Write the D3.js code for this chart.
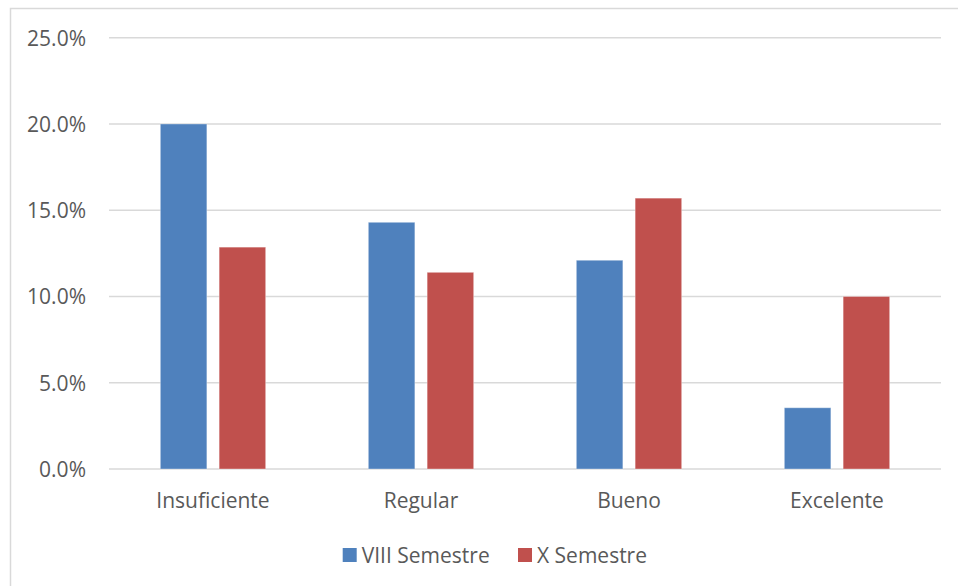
<!DOCTYPE html>
<html>
<head>
<meta charset="utf-8">
<script src="https://cdn.jsdelivr.net/npm/d3@7"></script>
<style>
  html, body { margin: 0; padding: 0; background: #fff; }
  svg { display: block; }
  text { font-family: "Open Sans", sans-serif; fill: #595959; }
</style>
</head>
<body>
<svg id="chart" width="958" height="586"></svg>
<script>
const categories = ["Insuficiente", "Regular", "Bueno", "Excelente"];
const seriesNames = ["VIII Semestre", "X Semestre"];
const viiiValues = [20.0, 14.3, 12.1, 3.55];
const xValues = [12.86, 11.4, 15.7, 10.0];
const yTicks = [0, 5, 10, 15, 20, 25];
const colors = ["#4F81BD", "#C0504D"];

const seriesValues = [viiiValues, xValues];
const svg = d3.select("#chart");

// chart border
svg.append("rect")
  .attr("x", 10.5).attr("y", 8.5)
  .attr("width", 1000).attr("height", 1000)
  .attr("fill", "none").attr("stroke", "#d9d9d9").attr("stroke-width", 1.5);

const plot = { left: 109, right: 941, top: 37.7, bottom: 469 };

const y = d3.scaleLinear().domain([0, 25]).range([plot.bottom, plot.top]);
const x0 = d3.scaleBand().domain(categories).range([plot.left, plot.right]).padding(0);
const x1 = d3.scaleBand().domain(seriesNames).range([0, x0.bandwidth()])
  .paddingInner(0.209).paddingOuter(0.873);

// gridlines
svg.append("g").selectAll("line").data(yTicks).join("line")
  .attr("x1", plot.left).attr("x2", plot.right)
  .attr("y1", d => y(d)).attr("y2", d => y(d))
  .attr("stroke", "#d9d9d9").attr("stroke-width", 1.5);

// y tick labels
svg.append("g").selectAll("text").data(yTicks).join("text")
  .attr("x", 86).attr("y", d => y(d))
  .attr("text-anchor", "end").attr("dominant-baseline", "central")
  .style("font-size", "21px")
  .text(d => d.toFixed(1) + "%");

// bars
const groups = svg.append("g").selectAll("g").data(categories).join("g")
  .attr("transform", d => `translate(${x0(d)},0)`);
groups.selectAll("rect")
  .data((c, ci) => seriesNames.map((s, si) => ({ s, si, v: seriesValues[si][ci] })))
  .join("rect")
  .attr("x", d => x1(d.s))
  .attr("width", x1.bandwidth())
  .attr("y", d => y(d.v))
  .attr("height", d => y(0) - y(d.v))
  .attr("fill", d => colors[d.si])
  .attr("stroke", "rgba(255,255,255,0.35)")
  .attr("stroke-width", 1);

// category labels
svg.append("g").selectAll("text").data(categories).join("text")
  .attr("x", d => x0(d) + x0.bandwidth() / 2)
  .attr("y", 500)
  .attr("text-anchor", "middle").attr("dominant-baseline", "central")
  .style("font-size", "21px")
  .text(d => d);

// legend
const legendItems = [
  { name: seriesNames[0], color: colors[0], x: 342.7 },
  { name: seriesNames[1], color: colors[1], x: 518 }
];
const lg = svg.append("g").selectAll("g").data(legendItems).join("g")
  .attr("transform", d => `translate(${d.x},548)`);
lg.append("rect").attr("width", 14).attr("height", 14).attr("fill", d => d.color);
lg.append("text").attr("x", 19).attr("y", 7)
  .attr("dominant-baseline", "central")
  .style("font-size", "21px")
  .text(d => d.name);
</script>
</body>
</html>
